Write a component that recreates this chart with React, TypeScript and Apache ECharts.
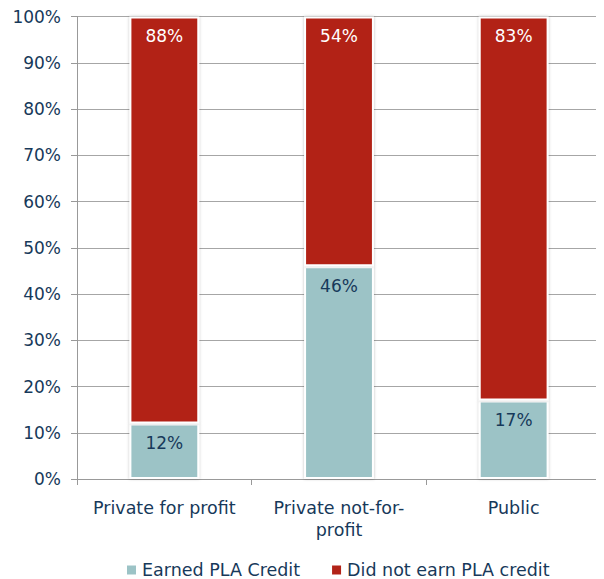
import React, { useEffect, useRef } from "react";
import * as echarts from "echarts";

const categories = ["Private for profit", "Private not-for-\nprofit", "Public"];
const earned = [12, 46, 17];
const notEarned = [88, 54, 83];
const seriesNames = ["Earned PLA Credit", "Did not earn PLA credit"];

const FONT = "DejaVu Sans";
const NAVY = "#17395a";

export default function App() {
  const ref = useRef<HTMLDivElement>(null);
  useEffect(() => {
    const chart = echarts.init(ref.current!, null, { renderer: "svg" });
    chart.setOption({
      animation: false,
      textStyle: { fontFamily: FONT },
      grid: { left: 69, right: 3, top: 7, bottom: 100, containLabel: false },
      legend: {
        bottom: -5,
        left: 112,
        itemWidth: 11,
        itemHeight: 11,
        itemGap: 30,
        icon: "rect",
        textStyle: { fontFamily: FONT, fontSize: 17.5, color: NAVY },
        data: seriesNames,
      },
      xAxis: {
        type: "category",
        data: categories,
        axisLine: { lineStyle: { color: "#999" } },
        axisTick: { show: true, interval: 0, alignWithLabel: false, length: 6, lineStyle: { color: "#999" } },
        axisLabel: { interval: 0, fontFamily: FONT, fontSize: 17.5, color: NAVY, margin: 18, lineHeight: 22 },
      },
      yAxis: {
        type: "value",
        min: 0,
        max: 100,
        interval: 10,
        axisLine: { show: true, lineStyle: { color: "#999" } },
        axisTick: { show: true, length: 6, lineStyle: { color: "#999" } },
        splitLine: { lineStyle: { color: "#a6a6a6" } },
        axisLabel: { fontFamily: FONT, fontSize: 17, color: NAVY, margin: 16, formatter: "{value}%" },
      },
      series: [
        {
          name: seriesNames[0],
          type: "bar",
          stack: "a",
          barWidth: "40%",
          data: earned,
          itemStyle: { color: "#9cc3c6", borderColor: "#fff", borderWidth: 2, shadowColor: "rgba(0,0,0,0.25)", shadowBlur: 3 },
          label: { show: true, position: "insideTop", distance: 11, formatter: "{c}%", color: NAVY, fontFamily: FONT, fontSize: 17 },
        },
        {
          name: seriesNames[1],
          type: "bar",
          stack: "a",
          barWidth: "40%",
          data: notEarned,
          itemStyle: { color: "#b22318", borderColor: "#fff", borderWidth: 2, shadowColor: "rgba(0,0,0,0.25)", shadowBlur: 3 },
          label: { show: true, position: "insideTop", distance: 11, formatter: "{c}%", color: "#fff", fontFamily: FONT, fontSize: 17 },
        },
      ],
    });
    return () => chart.dispose();
  }, []);
  return <div ref={ref} style={{ width: 596, height: 571 }} />;
}
